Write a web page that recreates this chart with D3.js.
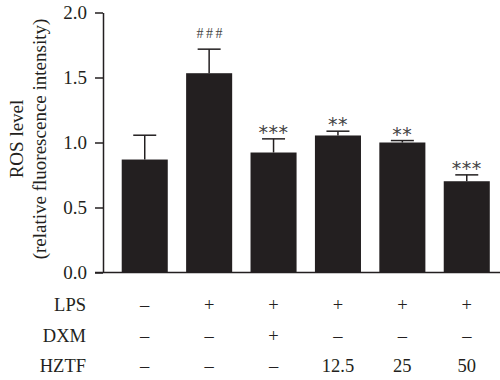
<!DOCTYPE html>
<html><head><meta charset="utf-8">
<script src="https://cdn.jsdelivr.net/npm/d3@7"></script>
<style>body{margin:0;background:#fff}svg{display:block;opacity:0.999;-webkit-font-smoothing:antialiased}</style>
</head><body>
<script>
const groups = ["G1","G2","G3","G4","G5","G6"];
const means = [0.869, 1.533, 0.923, 1.054, 1.000, 0.702];
const errs = [0.187, 0.185, 0.105, 0.033, 0.015, 0.049];
const marks = ["", "###", "***", "**", "**", "***"];
const rowNames = ["LPS", "DXM", "HZTF"];
const lps = ["–", "+", "+", "+", "+", "+"];
const dxm = ["–", "–", "+", "–", "–", "–"];
const hztf = ["–", "–", "–", "12.5", "25", "50"];
const yTicks = [0, 0.5, 1.0, 1.5, 2.0];

const W = 500, H = 380;
const svg = d3.select("body").append("svg").attr("width", W).attr("height", H);
const font = "'Liberation Serif', 'Times New Roman', serif";
const col = "#231f20";

const y = d3.scaleLinear().domain([0, 2]).range([272.5, 12.5]);
const x = d3.scaleBand().domain(groups).range([112.5, 499]).paddingInner(0.285).paddingOuter(0.143);

// bars
svg.selectAll("rect.bar").data(groups).enter().append("rect")
  .attr("x", d => x(d)).attr("width", x.bandwidth())
  .attr("y", (d,i) => y(means[i])).attr("height", (d,i) => y(0) - y(means[i]))
  .attr("fill", col);

// error bars
const cap = 23;
groups.forEach((g,i) => {
  const cx = x(g) + x.bandwidth()/2;
  svg.append("line").attr("x1", cx).attr("x2", cx)
    .attr("y1", y(means[i])).attr("y2", y(means[i] + errs[i]))
    .attr("stroke", col).attr("stroke-width", 1.5);
  svg.append("line").attr("x1", cx - cap/2).attr("x2", cx + cap/2)
    .attr("y1", y(means[i] + errs[i])).attr("y2", y(means[i] + errs[i]))
    .attr("stroke", col).attr("stroke-width", 1.5);
  if (marks[i]) {
    const isStar = marks[i][0] === "*";
    svg.append("text").attr("x", cx + (isStar ? 0 : 1.5)).attr("y", y(means[i] + errs[i]) - (isStar ? 0 : 11))
      .attr("text-anchor", "middle")
      .attr("font-family", isStar ? "'DejaVu Sans', sans-serif" : font)
      .attr("font-size", isStar ? 19 : 14)
      .attr("fill", "#444")
      .attr("letter-spacing", isStar ? 0.5 : 2.5)
      .text(marks[i]);
  }
});

// y axis
const yAxis = d3.axisLeft(y).tickValues(yTicks).tickFormat(d3.format(".1f")).tickSize(8).tickSizeOuter(0).tickPadding(8);
const ga = svg.append("g").attr("transform", "translate(103,0)").call(yAxis);
ga.select(".domain").attr("stroke", col).attr("stroke-width", 1.5);
ga.selectAll(".tick line").attr("stroke", col).attr("stroke-width", 1.5);
ga.selectAll(".tick text").attr("font-family", font).attr("font-size", 19).attr("fill", col);

// x axis baseline
svg.append("line").attr("x1", 95).attr("x2", 500).attr("y1", y(0)).attr("y2", y(0))
  .attr("stroke", col).attr("stroke-width", 1.5);

// y label
const yl = svg.append("text").attr("transform", "translate(0,139) rotate(-90)")
  .attr("text-anchor", "middle").attr("font-family", font).attr("font-size", 19).attr("fill", col);
yl.append("tspan").attr("x", 0).attr("y", 23).text("ROS level");
yl.append("tspan").attr("x", 0).attr("y", 46).text("(relative fluorescence intensity)");

// table
const rows = [lps, dxm, hztf];
const rowY = [311, 342, 372];
rows.forEach((r, ri) => {
  svg.append("text").attr("x", 86).attr("y", rowY[ri]).attr("text-anchor", "end")
    .attr("font-family", font).attr("font-size", 18.5).attr("fill", col).text(rowNames[ri]);
  r.forEach((v, i) => {
    svg.append("text").attr("x", x(groups[i]) + x.bandwidth()/2).attr("y", rowY[ri])
      .attr("text-anchor", "middle").attr("font-family", font).attr("font-size", 18.5)
      .attr("fill", col).text(v);
  });
});
</script>
</body></html>
